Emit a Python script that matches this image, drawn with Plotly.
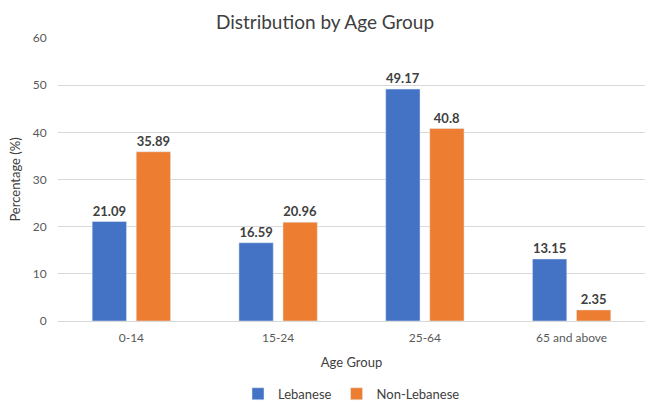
import plotly.graph_objects as go

categories = ["0-14", "15-24", "25-64", "65 and above"]
lebanese = [21.09, 16.59, 49.17, 13.15]
non_lebanese = [35.89, 20.96, 40.8, 2.35]
y_ticks = [0, 10, 20, 30, 40, 50, 60]

FONT = "Lato, Open Sans, sans-serif"
fig = go.Figure()
fig.add_trace(go.Bar(x=categories, y=lebanese, name="Lebanese", marker_color="#4472C4",
                     text=[f"{v:g}" for v in lebanese], textposition="outside",
                     textfont=dict(size=13, color="#404040", family=FONT, weight="bold"),
                     cliponaxis=False))
fig.add_trace(go.Bar(x=categories, y=non_lebanese, name="Non-Lebanese", marker_color="#ED7D31",
                     text=[f"{v:g}" for v in non_lebanese], textposition="outside",
                     textfont=dict(size=13, color="#404040", family=FONT, weight="bold"),
                     cliponaxis=False))

fig.update_layout(
    width=650, height=406,
    margin=dict(l=58, r=5, t=38, b=85, autoexpand=False),
    paper_bgcolor="white", plot_bgcolor="white",
    font=dict(family=FONT, color="#595959", size=12),
    title=dict(text="Distribution by Age Group", x=0.5, xanchor="center", y=0.945, yanchor="middle",
               font=dict(size=19, color="#404040", family=FONT)),
    bargap=0.4, bargroupgap=0.22,
    legend=dict(orientation="h", x=0.5, xanchor="center", yref="container", y=0.03, yanchor="middle",
                font=dict(size=13, color="#404040"), traceorder="normal"),
    xaxis=dict(title=dict(text="Age Group", font=dict(size=13, color="#404040"), standoff=13),
               automargin=False,
               showline=True, linecolor="#D9D9D9", ticks="outside", ticklen=6, tickcolor="white",
               tickfont=dict(size=12, color="#595959")),
    yaxis=dict(title=dict(text="Percentage (%)", font=dict(size=13, color="#404040"), standoff=9),
               automargin=False,
               range=[0, 60], tickvals=y_ticks, showgrid=True, gridcolor="#D9D9D9",
               zeroline=False, ticks="outside", ticklen=8, tickcolor="white",
               tickfont=dict(size=12, color="#595959")),
)
fig.write_html("out.html")
